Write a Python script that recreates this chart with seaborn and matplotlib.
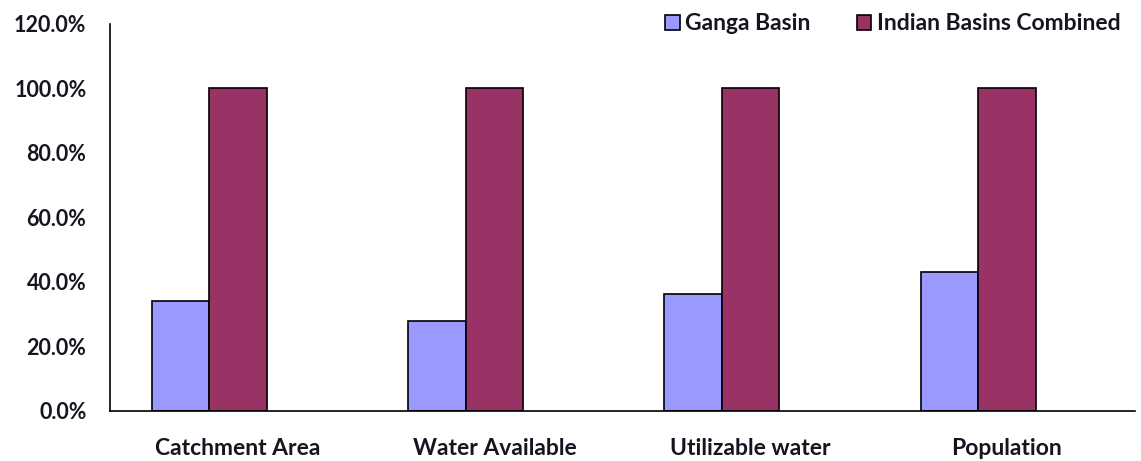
import matplotlib
matplotlib.use("Agg")
import matplotlib.pyplot as plt
import seaborn as sns
import pandas as pd
from matplotlib.ticker import PercentFormatter

# Share of each measure: Ganga basin vs. all Indian basins combined
categories = ["Catchment Area", "Water Available", "Utilizable water", "Population"]
ganga_basin = [0.34, 0.278, 0.363, 0.43]
indian_basins = [1.00, 1.00, 1.00, 1.00]
series_names = ["Ganga Basin", "Indian Basins Combined"]
y_ticks = [0.0, 0.2, 0.4, 0.6, 0.8, 1.0, 1.2]

df = pd.DataFrame({
    "category": categories * 2,
    "series": [series_names[0]] * len(categories) + [series_names[1]] * len(categories),
    "share": ganga_basin + indian_basins,
})

sns.set_theme(style="white")
plt.rcParams["font.family"] = ["Lato", "DejaVu Sans"]
plt.rcParams["font.weight"] = "bold"

fig = plt.figure(figsize=(11.41, 4.61), dpi=100)
ax = fig.add_axes([110 / 1141, 1 - 410.5 / 461, 1025 / 1141, (410.5 - 24) / 461])

palette = {series_names[0]: "#9999FF", series_names[1]: "#993366"}
sns.barplot(data=df, x="category", y="share", hue="series", order=categories,
            hue_order=series_names, palette=palette, width=0.449, gap=0,
            edgecolor="black", linewidth=1.2, saturation=1, ax=ax)

# category labels sit at the centre of each category slot, bars cluster left of it
shift = 0.112
ax.set_xticks([i + shift for i in range(len(categories))])
ax.set_xticklabels(categories)
ax.set_xlim(-0.5 + shift, len(categories) - 0.5 + shift)
ax.set_ylim(0, 1.2)
ax.set_yticks(y_ticks)
ax.yaxis.set_major_formatter(PercentFormatter(xmax=1.0, decimals=1))
ax.set_xlabel("")
ax.set_ylabel("")

for side in ("top", "right"):
    ax.spines[side].set_visible(False)
for side in ("left", "bottom"):
    ax.spines[side].set_color("black")
    ax.spines[side].set_linewidth(1.2)

ax.tick_params(axis="both", length=0, colors="#151520")
ax.tick_params(axis="y", pad=17, labelsize=15.5)
ax.tick_params(axis="x", pad=20, labelsize=16.5)
for lbl in ax.get_xticklabels() + ax.get_yticklabels():
    lbl.set_fontweight("bold")

handles, labels = ax.get_legend_handles_labels()
ax.legend(handles, labels, loc="center right",
          bbox_to_anchor=(1130 / 1141, 1 - 24 / 461), bbox_transform=fig.transFigure,
          ncol=2, frameon=False, handlelength=0.65, handleheight=0.65,
          handletextpad=0.25, columnspacing=2.0, borderaxespad=0,
          prop={"size": 16.5, "weight": "bold"}, labelcolor="#151520")

fig.savefig("out.png", dpi=100)
